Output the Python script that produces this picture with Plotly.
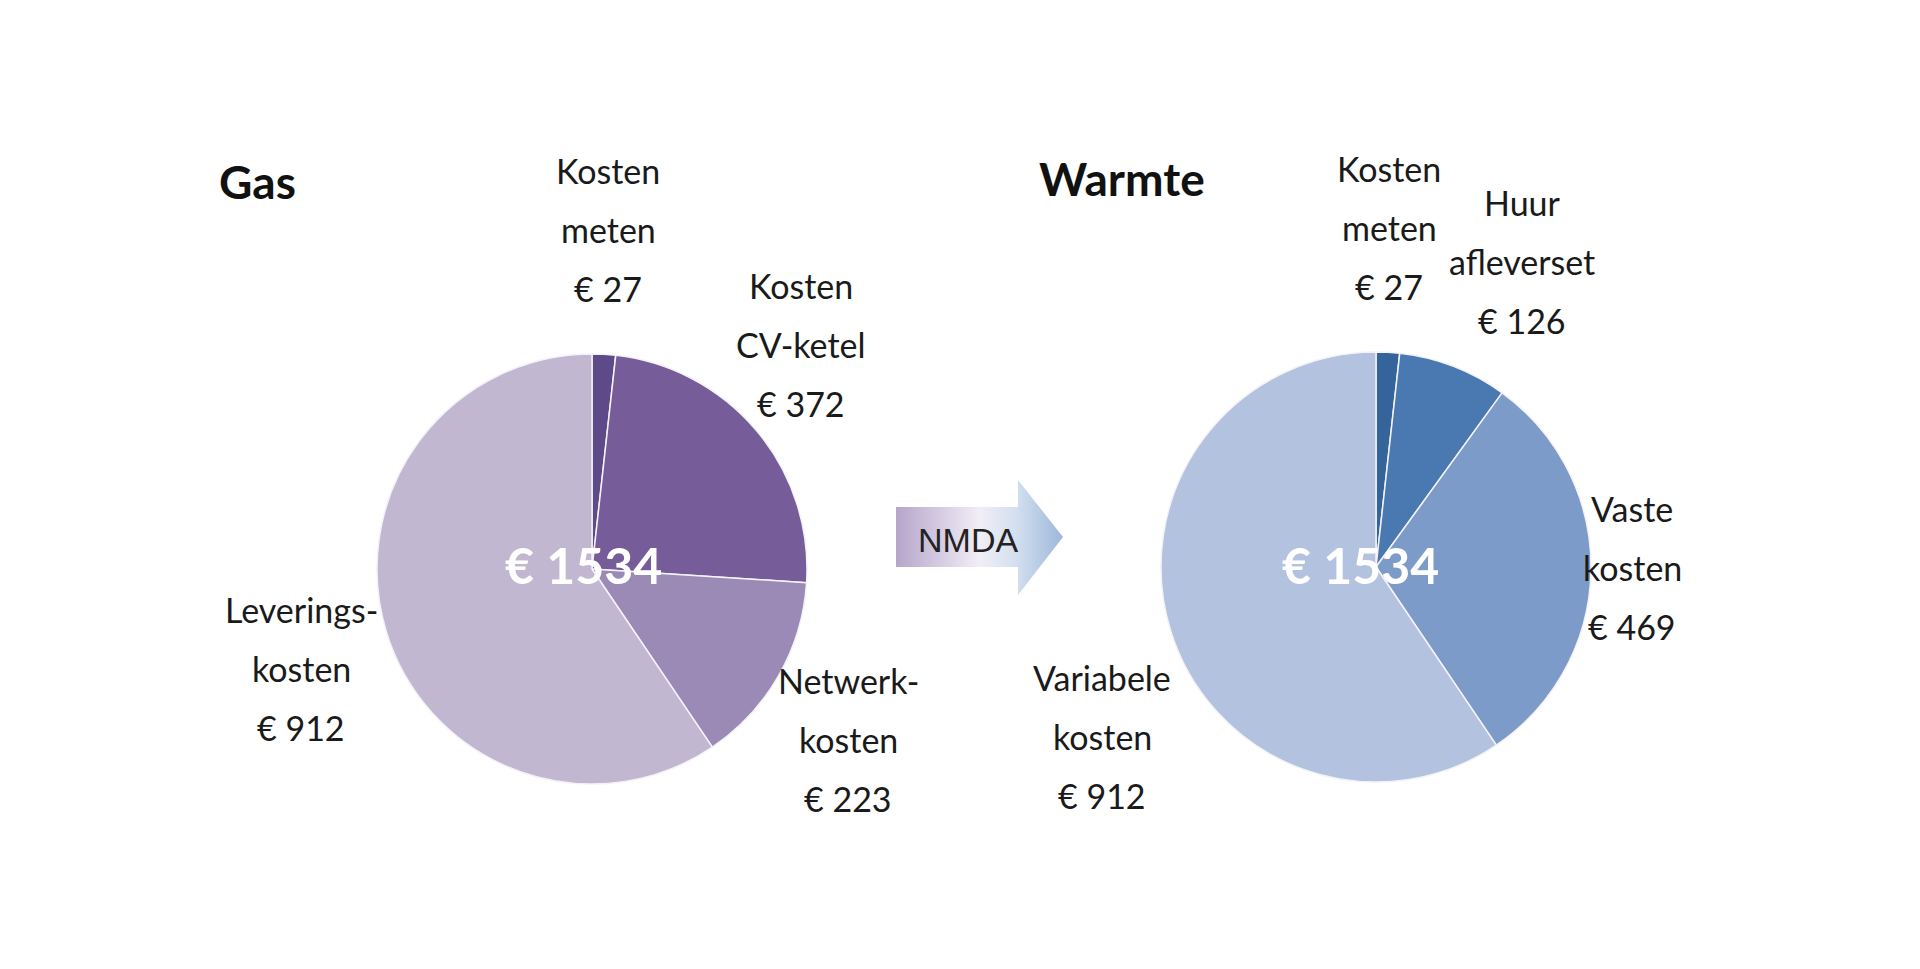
import plotly.graph_objects as go

# data
gas_labels = ["Kosten meten", "Kosten CV-ketel", "Netwerkkosten", "Leveringskosten"]
gas_lines = [["Kosten", "meten"], ["Kosten", "CV-ketel"], ["Netwerk-", "kosten"], ["Leverings-", "kosten"]]
gas_values = [27, 372, 223, 912]
gas_colors = ["#5e4a88", "#765c98", "#9c8ab6", "#c1b7d1"]

warmte_labels = ["Kosten meten", "Huur afleverset", "Vaste kosten", "Variabele kosten"]
warmte_lines = [["Kosten", "meten"], ["Huur", "afleverset"], ["Vaste", "kosten"], ["Variabele", "kosten"]]
warmte_values = [27, 126, 469, 912]
warmte_colors = ["#35649a", "#4a78b0", "#7d9bc8", "#b3c2de"]

W, H = 1920, 969
OFF = 8  # page body margin, so axis units = page pixels
FONT = "Lato, 'Open Sans', sans-serif"
LINE_STEP = 59
PIE_D = 430

# layout positions (page pixels from top-left)
gas_center = (592, 569)
warmte_center = (1376, 567)
gas_label_pos = [(608, 170), (801, 285), (848, 680), (301, 609)]
warmte_label_pos = [(1389, 168), (1522, 202), (1632, 508), (1102, 677)]


def domain(cx, cy, d):
    cx, cy = cx - OFF, cy - OFF
    return dict(x=[(cx - d / 2) / W, (cx + d / 2) / W],
                y=[(H - cy - d / 2) / H, (H - cy + d / 2) / H])


fig = go.Figure()

for labels, values, colors, c in [(gas_labels, gas_values, gas_colors, gas_center),
                                  (warmte_labels, warmte_values, warmte_colors, warmte_center)]:
    fig.add_trace(go.Pie(
        labels=labels, values=values, sort=False, direction="clockwise", rotation=0,
        marker=dict(colors=colors, line=dict(color="#f4f2f8", width=1.5)),
        textinfo="none", domain=domain(c[0], c[1], PIE_D), showlegend=False,
        hovertemplate="%{label}: € %{value}<extra></extra>",
    ))

# arrow "NMDA" between the two pies (decoration)
arrow_x = [896, 1018, 1018, 1063, 1018, 1018, 896, 896]
arrow_y = [507, 507, 480, 537, 595, 567, 567, 507]
fig.add_trace(go.Scatter(
    x=arrow_x, y=arrow_y, mode="lines", fill="toself", line=dict(width=0),
    fillgradient=dict(type="horizontal",
                      colorscale=[[0, "#b6a5cb"], [0.5, "#f1eef6"], [0.72, "#d3dfef"], [1, "#9db7da"]]),
    hoverinfo="skip", showlegend=False,
))

annotations = []


def txt(x, y, s, size=34, color="#1a1a1a", bold=False, anchor="center", family=FONT):
    annotations.append(dict(
        x=x, y=y, xref="x", yref="y", text=f"<b>{s}</b>" if bold else s, showarrow=False,
        xanchor=anchor, yanchor="middle", font=dict(family=family, size=size, color=color),
    ))


for lines, values, positions in [(gas_lines, gas_values, gas_label_pos),
                                  (warmte_lines, warmte_values, warmte_label_pos)]:
    for ln, v, (x, y) in zip(lines, values, positions):
        for i, s in enumerate(ln + [f"€ {v}"]):
            txt(x, y + i * LINE_STEP, s)

txt(583, 565, f"€ {sum(gas_values)}", size=50, color="white", bold=True)
txt(1360, 565, f"€ {sum(warmte_values)}", size=50, color="white", bold=True)
txt(217, 181, "Gas", size=46, color="#111111", bold=True, anchor="left")
txt(1037, 178, "Warmte", size=46, color="#111111", bold=True, anchor="left")
txt(968, 540, "NMDA", size=34, color="#222222", family="'Liberation Sans', Arial, sans-serif")

fig.update_layout(
    width=W, height=H,
    margin=dict(l=0, r=0, t=0, b=0),
    paper_bgcolor="white", plot_bgcolor="rgba(0,0,0,0)",
    xaxis=dict(range=[OFF, W + OFF], visible=False, domain=[0, 1], fixedrange=True),
    yaxis=dict(range=[H + OFF, OFF], visible=False, domain=[0, 1], fixedrange=True),
    annotations=annotations,
)

fig.write_html("out.html")
